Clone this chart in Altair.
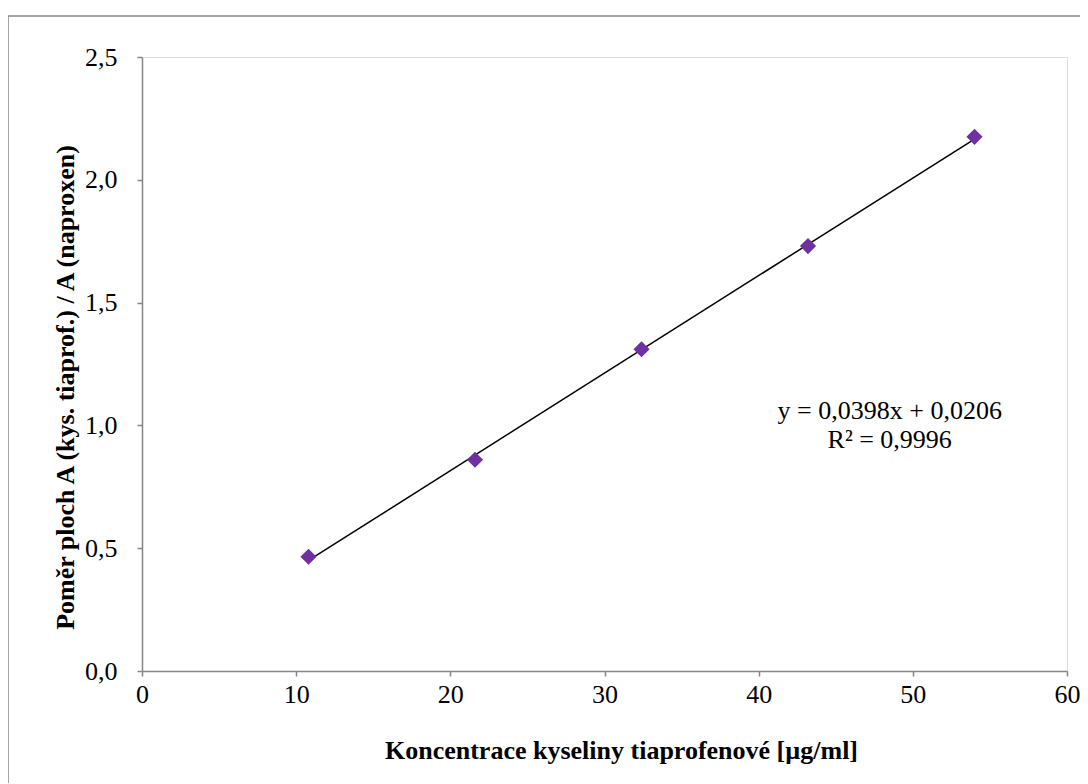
import altair as alt
import pandas as pd

conc = [10.8, 21.6, 32.4, 43.2, 54.0]
ratio = [0.465, 0.86, 1.31, 1.73, 2.175]
eq_lines = ["y = 0,0398x + 0,0206", "R² = 0,9996"]
eq_x = [48.5, 48.5]
eq_y = [1.06, 0.94]

df = pd.DataFrame({"x": conc, "y": ratio})
ann = pd.DataFrame({"x": eq_x, "y": eq_y, "t": eq_lines})

FONT = "Liberation Serif"
AX = "#868686"
FS = 26

xscale = alt.Scale(domain=[0, 60], nice=False)
yscale = alt.Scale(domain=[0, 2.5], nice=False)

xaxis = alt.Axis(
    values=[0, 10, 20, 30, 40, 50, 60], format="d", grid=False, labelFlush=False,
    domainColor=AX, domainWidth=1.5, tickColor=AX, tickWidth=1.5, tickSize=5,
    labelFont=FONT, labelFontSize=FS, labelColor="black", labelPadding=5,
    title="Koncentrace kyseliny tiaprofenové [µg/ml]",
    titleFont=FONT, titleFontSize=FS, titleFontWeight="bold", titleColor="black",
    titlePadding=30, titleX=479,
)
yaxis = alt.Axis(
    values=[0, 0.5, 1.0, 1.5, 2.0, 2.5], labelExpr="replace(format(datum.value, '.1f'), '.', ',')",
    grid=False, labelFlush=False,
    domainColor=AX, domainWidth=1.5, tickColor=AX, tickWidth=1.5, tickSize=5,
    labelFont=FONT, labelFontSize=FS, labelColor="black", labelPadding=20,
    title="Poměr ploch A (kys. tiaprof.) / A (naproxen)",
    titleFont=FONT, titleFontSize=FS, titleFontWeight="bold", titleColor="black",
    titlePadding=6, titleY=330,
)

base = alt.Chart(df)

trend = base.transform_regression("x", "y", extent=[10.8, 54.0]).mark_line(
    color="black", strokeWidth=1.5
).encode(x=alt.X("x:Q", scale=xscale, axis=xaxis), y=alt.Y("y:Q", scale=yscale, axis=yaxis))

pts = base.mark_point(shape="diamond", filled=True, color="#7030A0", opacity=1, size=260).encode(
    x=alt.X("x:Q", scale=xscale), y=alt.Y("y:Q", scale=yscale)
)

text = alt.Chart(ann).mark_text(font=FONT, fontSize=FS, color="black", align="center", baseline="middle").encode(
    x=alt.X("x:Q", scale=xscale), y=alt.Y("y:Q", scale=yscale), text="t:N"
)

border = alt.Chart(pd.DataFrame({"a": [0]})).mark_rect(
    fill=None, stroke=AX, strokeWidth=1.5
).encode(x=alt.value(-134), x2=alt.value(950), y=alt.value(-41), y2=alt.value(740))

chart = alt.layer(border, trend, pts, text).properties(
    width=925, height=614,
    autosize=alt.AutoSizeParams(type="none"),
    padding={"left": 134, "top": 49, "right": 13, "bottom": 112},
).configure_view(stroke=None).configure(background="white")

chart.save("out.html", embed_options={"renderer": "svg", "actions": False})
